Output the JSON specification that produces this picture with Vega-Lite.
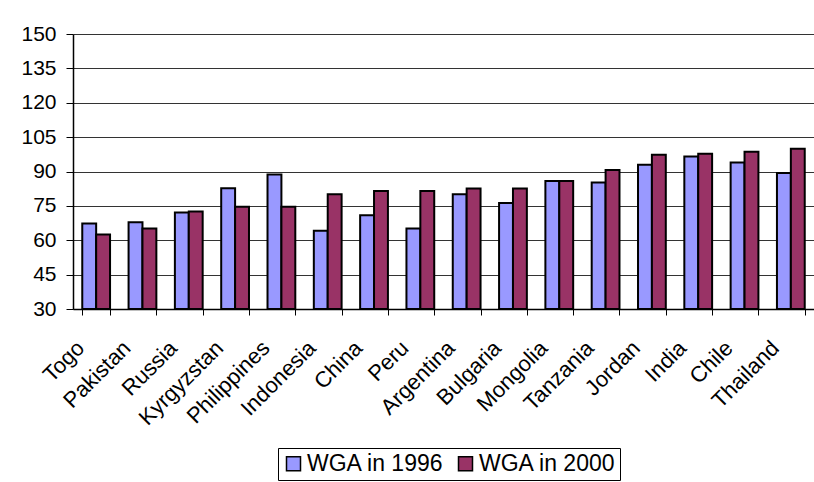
{
  "$schema": "https://vega.github.io/schema/vega-lite/v6.json",
  "width": 741,
  "height": 275,
  "autosize": {"type": "none"},
  "padding": {"left": 73, "top": 34, "right": 0, "bottom": 173},
  "background": "white",
  "data": {
    "values": [
      {"country": "Togo", "series": "WGA in 1996", "value": 67.3},
      {"country": "Togo", "series": "WGA in 2000", "value": 62.5},
      {"country": "Pakistan", "series": "WGA in 1996", "value": 67.9},
      {"country": "Pakistan", "series": "WGA in 2000", "value": 65.1},
      {"country": "Russia", "series": "WGA in 1996", "value": 72.1},
      {"country": "Russia", "series": "WGA in 2000", "value": 72.5},
      {"country": "Kyrgyzstan", "series": "WGA in 1996", "value": 82.7},
      {"country": "Kyrgyzstan", "series": "WGA in 2000", "value": 74.6},
      {"country": "Philippines", "series": "WGA in 1996", "value": 88.7},
      {"country": "Philippines", "series": "WGA in 2000", "value": 74.6},
      {"country": "Indonesia", "series": "WGA in 1996", "value": 64.1},
      {"country": "Indonesia", "series": "WGA in 2000", "value": 80.1},
      {"country": "China", "series": "WGA in 1996", "value": 70.9},
      {"country": "China", "series": "WGA in 2000", "value": 81.5},
      {"country": "Peru", "series": "WGA in 1996", "value": 65.1},
      {"country": "Peru", "series": "WGA in 2000", "value": 81.5},
      {"country": "Argentina", "series": "WGA in 1996", "value": 80.1},
      {"country": "Argentina", "series": "WGA in 2000", "value": 82.6},
      {"country": "Bulgaria", "series": "WGA in 1996", "value": 76.3},
      {"country": "Bulgaria", "series": "WGA in 2000", "value": 82.6},
      {"country": "Mongolia", "series": "WGA in 1996", "value": 85.9},
      {"country": "Mongolia", "series": "WGA in 2000", "value": 85.9},
      {"country": "Tanzania", "series": "WGA in 1996", "value": 85.2},
      {"country": "Tanzania", "series": "WGA in 2000", "value": 90.7},
      {"country": "Jordan", "series": "WGA in 1996", "value": 92.9},
      {"country": "Jordan", "series": "WGA in 2000", "value": 97.3},
      {"country": "India", "series": "WGA in 1996", "value": 96.5},
      {"country": "India", "series": "WGA in 2000", "value": 97.7},
      {"country": "Chile", "series": "WGA in 1996", "value": 93.9},
      {"country": "Chile", "series": "WGA in 2000", "value": 98.6},
      {"country": "Thailand", "series": "WGA in 1996", "value": 89.4},
      {"country": "Thailand", "series": "WGA in 2000", "value": 99.9}
    ]
  },
  "mark": {"type": "bar", "stroke": "black", "strokeWidth": 2},
  "encoding": {
    "x": {
      "field": "country",
      "type": "nominal",
      "sort": null,
      "scale": {"paddingInner": 0.4, "paddingOuter": 0.2},
      "axis": {
        "title": null,
        "tickBand": "extent",
        "labelAngle": -45,
        "labelAlign": "right",
        "labelBaseline": "top",
        "labelOffset": -23,
        "labelPadding": 22,
        "tickSize": 6,
        "tickColor": "black",
        "domainColor": "black",
        "labelFont": "Liberation Sans",
        "labelFontSize": 22,
        "labelColor": "black",
        "grid": false
      }
    },
    "xOffset": {"field": "series", "type": "nominal", "scale": {"paddingInner": 0, "paddingOuter": 0}},
    "y": {
      "field": "value",
      "type": "quantitative",
      "scale": {"domain": [30, 150], "zero": false, "nice": false},
      "axis": {
        "title": null,
        "values": [30, 45, 60, 75, 90, 105, 120, 135, 150],
        "tickSize": 7,
        "tickColor": "black",
        "domainColor": "black",
        "labelPadding": 10,
        "labelFont": "Liberation Sans",
        "labelFontSize": 21,
        "labelColor": "black",
        "grid": true,
        "gridColor": "#333333",
        "gridWidth": 1
      }
    },
    "y2": {"datum": 30},
    "color": {
      "field": "series",
      "type": "nominal",
      "scale": {"domain": ["WGA in 1996", "WGA in 2000"], "range": ["#9999FF", "#993366"]},
      "legend": {
        "title": null,
        "orient": "none",
        "legendX": 205,
        "legendY": 414,
        "direction": "horizontal",
        "strokeColor": "black",
        "padding": 4,
        "symbolType": "square",
        "symbolSize": 196,
        "symbolStrokeColor": "black",
        "symbolStrokeWidth": 1.5,
        "labelFont": "Liberation Sans",
        "labelFontSize": 23,
        "labelColor": "black",
        "labelOffset": 2,
        "columnPadding": 10
      }
    }
  },
  "config": {"view": {"stroke": null}, "axis": {"domainWidth": 1.5}}
}
